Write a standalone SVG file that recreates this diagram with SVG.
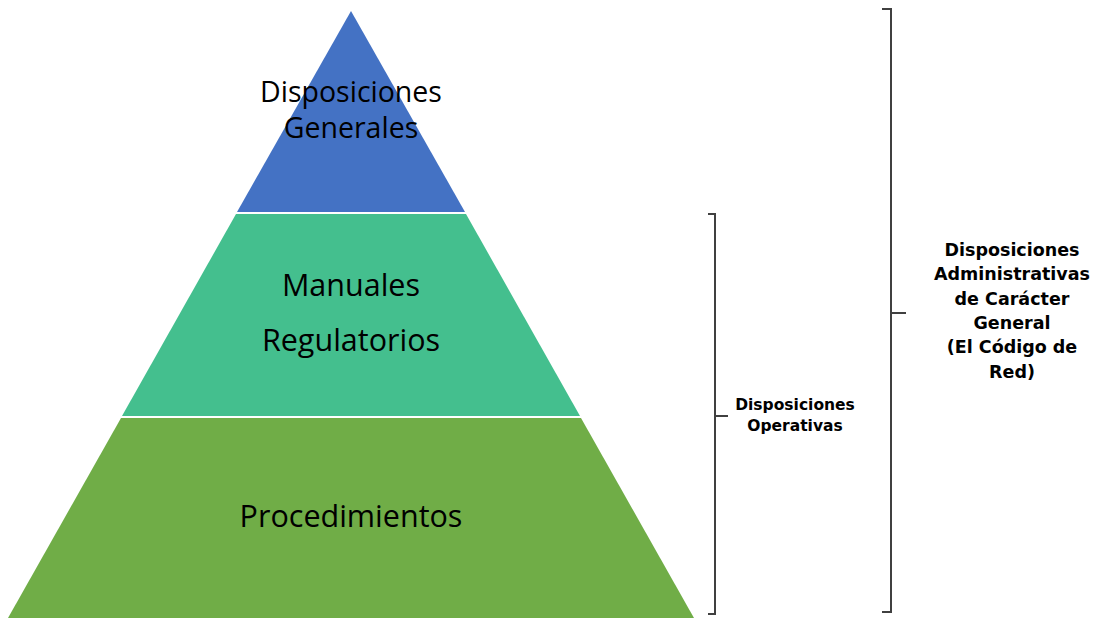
<svg xmlns="http://www.w3.org/2000/svg" width="1096" height="618" viewBox="0 0 1096 618">
<style>
.lvl{font-family:"Open Sans","Noto Sans",sans-serif;fill:#000;text-anchor:middle}
.lbl{font-family:"DejaVu Sans",Verdana,sans-serif;font-weight:bold;fill:#000;text-anchor:middle}
.br{fill:none;stroke:#404040;stroke-width:2}
</style>
<rect width="1096" height="618" fill="#fff"/>
<g id="top">
<polygon points="351,11 465,212 237,212" fill="#4472C4"/>
<text class="lvl" x="351" y="102" font-size="28.5">Disposiciones</text>
<text class="lvl" x="351" y="138" font-size="28.5">Generales</text>
</g>
<g id="middle">
<polygon points="236,214 466,214 580,416 122,416" fill="#44BF8E"/>
<text class="lvl" x="351" y="296" font-size="30.5">Manuales</text>
<text class="lvl" x="351" y="351" font-size="30.5">Regulatorios</text>
</g>
<g id="bottom">
<polygon points="121,418 581,418 694,618 8,618" fill="#70AD47"/>
<text class="lvl" x="351" y="527" font-size="30.5">Procedimientos</text>
</g>
<g id="connectors">
<path class="br" d="M708,214 H715 V614 H708 M715,416 H728"/>
<path class="br" d="M882,9 H891 V612 H882 M891,313 H906"/>
</g>
<g id="label-operativas">
<text class="lbl" x="795" y="410" font-size="15.5">Disposiciones</text>
<text class="lbl" x="795" y="431" font-size="15.5">Operativas</text>
</g>
<g id="label-general">
<text class="lbl" x="1012" y="256" font-size="17.5">Disposiciones</text>
<text class="lbl" x="1012" y="280" font-size="17.5">Administrativas</text>
<text class="lbl" x="1012" y="305" font-size="17.5">de Carácter</text>
<text class="lbl" x="1012" y="329" font-size="17.5">General</text>
<text class="lbl" x="1012" y="353" font-size="17.5">(El Código de</text>
<text class="lbl" x="1012" y="378" font-size="17.5">Red)</text>
</g>
</svg>
